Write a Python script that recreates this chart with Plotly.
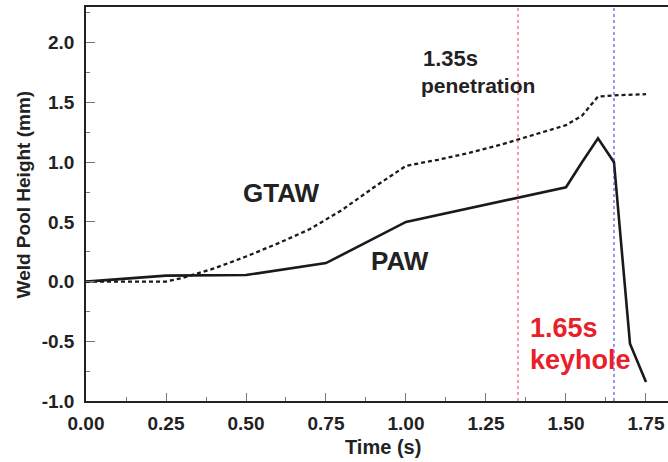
import plotly.graph_objects as go

# Weld pool height over time for the two processes
gtaw_time = [0.00, 0.25, 0.30, 0.40, 0.50, 0.60, 0.70, 0.80, 0.90, 1.00,
             1.10, 1.20, 1.30, 1.40, 1.50, 1.55, 1.60, 1.65, 1.75]
gtaw_height = [0.00, 0.00, 0.03, 0.11, 0.21, 0.32, 0.44, 0.60, 0.79, 0.97,
               1.02, 1.08, 1.15, 1.23, 1.31, 1.39, 1.55, 1.56, 1.57]

paw_time = [0.00, 0.10, 0.25, 0.50, 0.75, 1.00, 1.50, 1.55, 1.60, 1.65, 1.70, 1.75]
paw_height = [0.00, 0.02, 0.05, 0.055, 0.155, 0.50, 0.79, 1.00, 1.20, 1.00, -0.52, -0.84]

# Event markers (s)
penetration_time = 1.35
keyhole_time = 1.65

x_ticks = [0.00, 0.25, 0.50, 0.75, 1.00, 1.25, 1.50, 1.75]
y_ticks = [-1.0, -0.5, 0.0, 0.5, 1.0, 1.5, 2.0]

FONT = "Arial, 'Liberation Sans', Helvetica, sans-serif"

fig = go.Figure()

fig.add_trace(go.Scatter(
    x=gtaw_time, y=gtaw_height, mode="lines", name="GTAW",
    line=dict(color="#1a1a1a", width=2.3, dash="4px,3px"),
))
fig.add_trace(go.Scatter(
    x=paw_time, y=paw_height, mode="lines", name="PAW",
    line=dict(color="#1a1a1a", width=2.6),
))

# Vertical dotted markers for penetration and keyhole onset
fig.add_vline(x=penetration_time, line=dict(color="#e8404a", width=1, dash="dot"))
fig.add_vline(x=keyhole_time, line=dict(color="#2a36c8", width=1, dash="dot"))

ann = [
    dict(x=0.485, y=0.74, text="<b>GTAW</b>", size=26, color="#222222"),
    dict(x=0.885, y=0.17, text="<b>PAW</b>", size=26, color="#222222"),
    dict(x=1.048, y=1.87, text="<b>1.35s</b>", size=22, color="#222222"),
    dict(x=1.040, y=1.645, text="<b>penetration</b>", size=21, color="#222222"),
    dict(x=1.382, y=-0.39, text="<b>1.65s</b>", size=27, color="#e8202a"),
    dict(x=1.382, y=-0.66, text="<b>keyhole</b>", size=27, color="#e8202a"),
]
for a in ann:
    fig.add_annotation(x=a["x"], y=a["y"], xref="x", yref="y", text=a["text"],
                       showarrow=False, xanchor="left", yanchor="middle",
                       font=dict(family=FONT, size=a["size"], color=a["color"]))

# Axis titles
fig.add_annotation(x=0.927, y=-1.0, xref="x", yref="y", yshift=-46,
                   text="<b>Time (s)</b>", showarrow=False,
                   xanchor="center", yanchor="middle",
                   font=dict(family=FONT, size=20, color="#222222"))
fig.add_annotation(x=0.0, y=0.73, xref="x", yref="y", xshift=-63,
                   text="<b>Weld Pool Height (mm)</b>", showarrow=False,
                   textangle=-90, xanchor="center", yanchor="middle",
                   font=dict(family=FONT, size=19, color="#222222"))

fig.update_layout(
    width=668, height=462,
    margin=dict(l=86, r=0, t=7, b=61),
    paper_bgcolor="white", plot_bgcolor="white",
    showlegend=False,
    font=dict(family=FONT, color="#222222"),
    xaxis=dict(
        range=[0, 1.8188], tickvals=x_ticks, ticktext=[f"<b>{v:.2f}</b>" for v in x_ticks],
        showgrid=False, zeroline=False,
        showline=True, linecolor="#222222", linewidth=1.5, mirror=True,
        ticks="inside", ticklen=8, tickwidth=1, tickcolor="#777777",
        minor=dict(dtick=0.125, tick0=0, ticks="inside", ticklen=4, tickcolor="#777777", showgrid=False),
        tickfont=dict(family=FONT, size=19, color="#222222"),
        ticklabelstandoff=4,
    ),
    yaxis=dict(
        range=[-1.0, 2.3], tickvals=y_ticks, ticktext=[f"<b>{v:.1f}</b>" for v in y_ticks],
        showgrid=False, zeroline=False,
        showline=True, linecolor="#222222", linewidth=1.5,
        ticks="inside", ticklen=9, tickwidth=1, tickcolor="#777777",
        minor=dict(dtick=0.25, tick0=0, ticks="inside", ticklen=4, tickcolor="#777777", showgrid=False),
        tickfont=dict(family=FONT, size=19, color="#222222"),
        ticklabelstandoff=6,
    ),
)

fig.write_html("out.html")
